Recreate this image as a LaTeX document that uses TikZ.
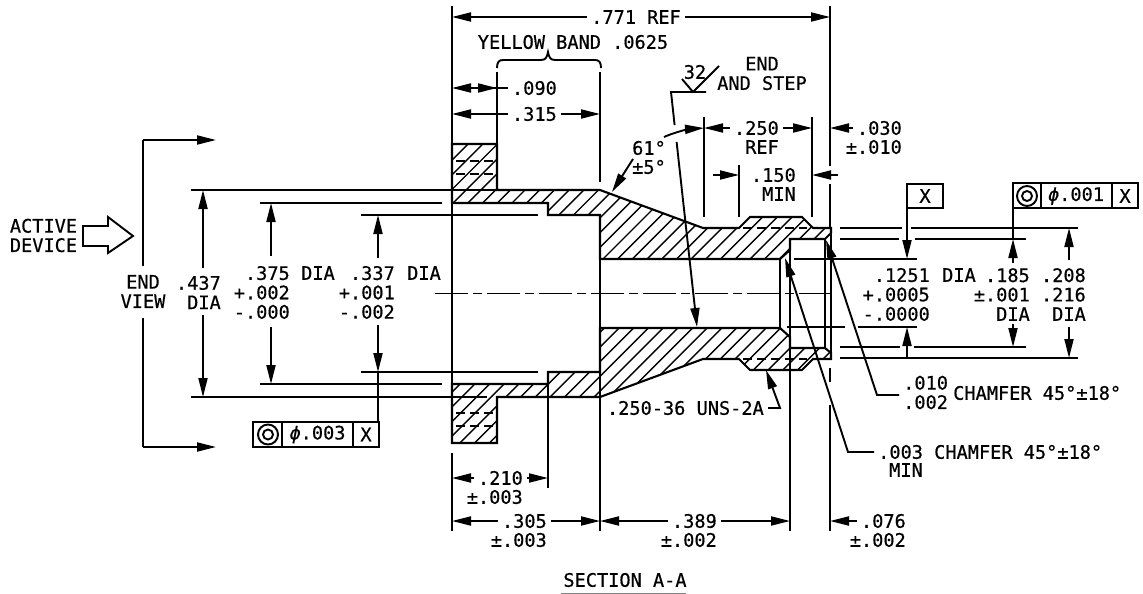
\documentclass[tikz,border=0pt]{standalone}
\usepackage{fontspec}
\usepackage{tikz}
\usetikzlibrary{arrows.meta}
\newfontfamily\cadfont[FakeBold=0.5]{DejaVu Sans Mono}
\newcommand{\dimfont}{\cadfont\fontsize{18.6}{19.4}\selectfont}
\newcommand{\upperhalf}{(452,144) -- (497,144) -- (497,190) -- (600,190) -- (703,228) -- (739,228) -- (750,217) -- (802,217) -- (813,228) -- (831,228) -- (831,233) -- (825,239) -- (790,239) -- (790,250) -- (780,259) -- (600,259) -- (600,215) -- (548,215) -- (548,203) -- (452,203) -- cycle}
\newcommand{\lowerhalf}{(452,443) -- (497,443) -- (497,397) -- (600,397) -- (703,359) -- (739,359) -- (750,370) -- (802,370) -- (813,359) -- (831,359) -- (831,353) -- (825,348) -- (790,348) -- (790,337) -- (780,328) -- (600,328) -- (600,372) -- (548,372) -- (548,384) -- (452,384) -- cycle}
\tikzset{
	part/.style={line width=2.1pt},
	thin line/.style={line width=1.9pt},
	hatchline/.style={line width=1.4pt},
	hiddenline/.style={line width=1.6pt,dash pattern=on 9pt off 5pt},
	centerline/.style={line width=1.6pt,dash pattern=on 33pt off 5pt on 9pt off 5pt},
	dimtip/.style={thin line,-{Triangle[length=19pt,width=9pt]}},
	label/.style={font=\dimfont,inner xsep=4pt,inner ysep=0pt},
	rlabel/.style={label,anchor=east,align=right},
	llabel/.style={label,anchor=west,align=left},
	clabel/.style={label,align=center}
}
\begin{document}
\begin{tikzpicture}[x=1pt,y=-1pt]
	\useasboundingbox (0,0) rectangle (1143,594);

	% hatching
	\begin{scope}
		\clip \upperhalf;
		\foreach \s in {582.7,597.4,...,1200} \draw[hatchline] (\s-100,100) -- (\s-500,500);
	\end{scope}
	\begin{scope}
		\clip \lowerhalf;
		\foreach \s in {770.6,785.3,...,1300} \draw[hatchline] (\s-100,100) -- (\s-500,500);
	\end{scope}

	% section outline
	\draw[part] \upperhalf;
	\draw[part] \lowerhalf;
	\draw[part] (780,259) -- (780,328);
	\draw[part] (790,250) -- (790,337);
	\draw[part] (825,239) -- (825,348);
	\draw[part] (831,233) -- (831,353);
	\draw[part] (452,203) -- (452,384);
	\draw[part] (600,259) -- (600,328);

	% threads
	\draw[hiddenline] (456,161) -- (497,161);
	\draw[hiddenline] (456,174) -- (497,174);
	\draw[hiddenline] (456,413) -- (497,413);
	\draw[hiddenline] (456,426) -- (497,426);
	\draw[hiddenline] (743,228) -- (807,228);
	\draw[hiddenline] (743,359) -- (807,359);
	\draw[centerline] (435,293.5) -- (836,293.5);

	% extension lines
	\draw[thin line] (191,190) -- (497,190);
	\draw[thin line] (191,397) -- (487,397);
	\draw[thin line] (260,203) -- (442,203);
	\draw[thin line] (260,384) -- (442,384);
	\draw[thin line] (361,215) -- (538,215);
	\draw[thin line] (361,372) -- (538,372);
	\draw[thin line] (452,6) -- (452,144);
	\draw[thin line] (452,453) -- (452,531);
	\draw[thin line] (497,72) -- (497,144);
	\draw[thin line] (600,72) -- (600,182);
	\draw[thin line] (600,328) -- (600,531);
	\draw[thin line] (548,372) -- (548,488);
	\draw[thin line] (790,348) -- (790,531);
	\draw[thin line] (830,6) -- (830,166);
	\draw[thin line] (830,184) -- (830,228);
	\draw[thin line] (830,368) -- (830,382);
	\draw[thin line] (830,405) -- (830,531);
	\draw[thin line] (704,117) -- (704,217);
	\draw[thin line] (739,165) -- (739,217);
	\draw[thin line] (812,117) -- (812,217);
	\draw[thin line] (840,228) -- (902,228);
	\draw[thin line] (911,228) -- (1078,228);
	\draw[thin line] (840,239) -- (899,239);
	\draw[thin line] (915,239) -- (1026,239);
	\draw[thin line] (794,259) -- (917,259);
	\draw[thin line] (787,327) -- (845,327);
	\draw[thin line] (858,327) -- (917,327);
	\draw[thin line] (840,347) -- (900,347);
	\draw[thin line] (914,347) -- (1026,347);
	\draw[thin line] (840,358) -- (1078,358);

	% brace
	\draw[thin line] (497,68) .. controls (497,62) and (499,60) .. (503,60) -- (541,60) .. controls (546,60) and (547,57) .. (548,52) .. controls (549,57) and (550,60) .. (555,60) -- (595,60) .. controls (599,60) and (601,62) .. (601,68);

	% top dimensions
	\node[rlabel] (lbl771) at (685,17) {.771 REF};
	\draw[dimtip] (lbl771.west) -- (452,17);
	\draw[dimtip] (lbl771.east) -- (830,17);
	\node[clabel] (lblband) at (573,42) {YELLOW BAND .0625};
	\node[rlabel] (lbl090) at (561,88) {.090};
	\draw[dimtip] (lbl090.west) -- (452,88);
	\draw[dimtip] (478,88) -- (497,88);
	\node[rlabel] (lbl315) at (561,114) {.315};
	\draw[dimtip] (lbl315.west) -- (452,114);
	\draw[dimtip] (lbl315.east) -- (600,114);
	\node[rlabel] (lbl250) at (783,128) {.250};
	\node[rlabel] (lbl250b) at (783,147) {REF};
	\draw[dimtip] (lbl250.west) -- (704,128);
	\draw[dimtip] (lbl250.east) -- (812,128);
	\node[rlabel] (lbl150) at (800,175) {.150};
	\node[rlabel] (lbl150b) at (800,194) {MIN};
	\draw[dimtip] (713,175) -- (739,175);
	\draw[dimtip] (838,175) -- (812,175);
	\node[rlabel] (lbl030) at (906,128) {.030};
	\node[rlabel] (lbl030b) at (906,147) {±.010};
	\draw[dimtip] (lbl030.west) -- (830,128);

	% surface finish
	\draw[thin line] (706,92) -- (671,92) -- (674.6,125);
	\draw[thin line] (682,79) -- (693,92) -- (719,66);
	\node[clabel] (lbl32) at (695,72) {32};
	\node[clabel] (lblstep) at (762,73.5) {END\\AND STEP};
	\draw[dimtip] (676.6,142) -- (697,327);

	% angle
	\node[rlabel] (lbl61) at (670,148) {61°};
	\node[rlabel] (lbl61b) at (670,167) {±5°};
	\draw[dimtip] (633,159) -- (612,192);
	\draw[dimtip] (664,137) .. controls (675,132) and (690,129) .. (704,128);

	% left dimensions
	\draw[thin line] (143,266) -- (143,140);
	\draw[dimtip] (143,140) -- (216,140);
	\draw[thin line] (143,318) -- (143,447);
	\draw[dimtip] (143,447) -- (216,447);
	\node[clabel] (lblview) at (143,291.5) {END\\VIEW};
	\node[clabel] (lblactive) at (43.5,235.5) {ACTIVE\\DEVICE};
	\draw[thin line] (83,226) -- (108,226) -- (108,217) -- (133,236) -- (108,253) -- (108,246) -- (83,246) -- cycle;
	\node[rlabel] (lbl437) at (225,292.5) {.437\\DIA};
	\draw[dimtip] (203,268) -- (203,190);
	\draw[dimtip] (203,315) -- (203,397);
	\node[rlabel] (lbl375) at (294,292.5) {.375\\+.002\\-.000};
	\node[llabel] (lbl375b) at (297,273) {DIA};
	\draw[dimtip] (271,256) -- (271,203);
	\draw[dimtip] (271,327) -- (271,384);
	\node[rlabel] (lbl337) at (399,292.5) {.337\\+.001\\-.002};
	\node[llabel] (lbl337b) at (403,273) {DIA};
	\draw[dimtip] (378,258) -- (378,215);
	\draw[dimtip] (378,325) -- (378,372);
	\draw[thin line] (378,372) -- (378,422);

	% left control frame
	\draw[thin line] (253,422) rectangle (379,447);
	\draw[thin line] (282,422) -- (282,447);
	\draw[thin line] (353,422) -- (353,447);
	\draw[thin line] (268,434.5) circle (10pt);
	\draw[thin line] (268,434.5) circle (5pt);
	\node[clabel] (lblf003) at (317.5,434.5) {\itshape ϕ\upshape.003};
	\node[clabel] (lblx1) at (366,434.5) {X};

	% bottom dimensions
	\node[rlabel] (lbl210) at (527,478) {.210};
	\node[rlabel] (lbl210b) at (527,497) {±.003};
	\draw[dimtip] (lbl210.west) -- (452,478);
	\draw[dimtip] (lbl210.east) -- (548,478);
	\node[rlabel] (lbl305) at (551,521) {.305};
	\node[rlabel] (lbl305b) at (551,540) {±.003};
	\draw[dimtip] (lbl305.west) -- (452,521);
	\draw[dimtip] (lbl305.east) -- (600,521);
	\node[rlabel] (lbl389) at (721,521) {.389};
	\node[rlabel] (lbl389b) at (721,540) {±.002};
	\draw[dimtip] (lbl389.west) -- (600,521);
	\draw[dimtip] (lbl389.east) -- (790,521);
	\node[rlabel] (lbl076) at (910,521) {.076};
	\node[rlabel] (lbl076b) at (910,540) {±.002};
	\draw[dimtip] (lbl076.west) -- (830,521);
	\node[clabel] (lblsec) at (625,580) {SECTION A-A};
	\draw[line width=1pt,gray] (561,593) -- (686,593);

	% thread and chamfer notes
	\node[rlabel] (lbluns) at (768,408) {.250-36 UNS-2A};
	\draw[dimtip] (lbluns.east) -- (780,408) -- (766,370);
	\node[llabel] (lbl003) at (874,452) {.003 CHAMFER 45°±18°};
	\node[llabel] (lbl003b) at (885,470) {MIN};
	\draw[dimtip] (lbl003.west) -- (848,452) -- (785,258);
	\node[llabel] (lbl010) at (899,392.5) {.010\\.002};
	\node[llabel] (lblcham) at (949,393) {CHAMFER 45°±18°};
	\draw[dimtip] ([yshift=-2.5pt]lbl010.west) -- (877,395) -- (826,240);

	% right dimensions
	\draw[thin line] (907,184) rectangle (943,208);
	\node[clabel] (lblx2) at (925,196) {X};
	\draw[thin line] (907,208) -- (907,235);
	\draw[dimtip] (907,216) -- (907,259);
	\draw[dimtip] (907,358) -- (907,327);
	\node[rlabel] (lbl1251) at (934,294.5) {.1251\\+.0005\\-.0000};
	\node[llabel] (lbl1251b) at (938,275) {DIA};
	\draw[thin line] (1013,183) rectangle (1138,208);
	\draw[thin line] (1041,183) -- (1041,208);
	\draw[thin line] (1112,183) -- (1112,208);
	\draw[thin line] (1027,196) circle (10pt);
	\draw[thin line] (1027,196) circle (5pt);
	\node[clabel] (lblf001) at (1076,196) {\itshape ϕ\upshape.001};
	\node[clabel] (lblx3) at (1125,196) {X};
	\node[rlabel] (lbl185) at (1034,294.5) {.185\\±.001\\DIA};
	\draw[thin line] (1013,208) -- (1013,239);
	\draw[dimtip] (1013,263) -- (1013,239);
	\draw[dimtip] (1013,324) -- (1013,347);
	\node[rlabel] (lbl208) at (1090,294.5) {.208\\.216\\DIA};
	\draw[dimtip] (1069,260) -- (1069,228);
	\draw[dimtip] (1069,327) -- (1069,358);
\end{tikzpicture}
\end{document}
